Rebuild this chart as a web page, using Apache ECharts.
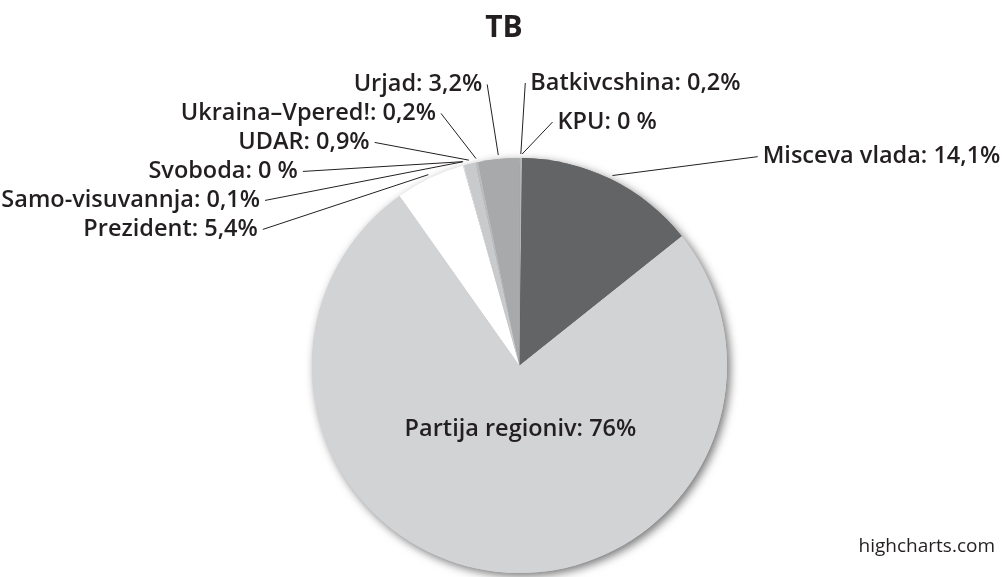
<!DOCTYPE html>
<html>
<head>
<meta charset="utf-8">
<script src="https://cdn.jsdelivr.net/npm/echarts@6/dist/echarts.min.js"></script>
<style>
    html, body { margin: 0; padding: 0; background: #fff; }
    #chart { width: 1008px; height: 577px; }
</style>
</head>
<body>
<div id="chart"></div>
<script>
// partii i rezultaty, % (po hodynnykovii strilci vid 12 hodyny)
var names = ['Batkivcshina', 'KPU', 'Misceva vlada', 'Partija regioniv', 'Prezident',
    'Samo-visuvannja', 'Svoboda', 'UDAR', 'Ukraina\u2013Vpered!', 'Urjad'];
var values = [0.2, 0, 14.1, 76, 5.4, 0.1, 0, 0.9, 0.2, 3.2];
var labels = ['0,2%', '0 %', '14,1%', '76%', '5,4%', '0,1%', '0 %', '0,9%', '0,2%', '3,2%'];
var colors = ['#b5b6b8', '#8e8f91', '#636466', '#d2d3d5', '#ffffff',
    '#dcdddf', '#d0d1d3', '#c9cacc', '#bbbcbe', '#a7a9ab'];

var font = '"Open Sans", sans-serif';
var textColor = '#231f20';
var cx = 519.5, cy = 365.5, r = 207.5;

// dovzhyny liniy pidpysiv (de vidriznyayutsia vid typovykh)
var lineLen = {
    'KPU': {length: 36, length2: 30},
    'Misceva vlada': {length: 25, length2: 136},
    'Prezident': {length: 75, length2: 14},
    'Samo-visuvannja': {length: 75, length2: 30},
    'Svoboda': {length: 75, length2: 16},
    'UDAR': {length: 75, length2: -24},
    'Ukraina\u2013Vpered!': {length: 75, length2: -45}
};

var data = names.map(function (n, i) {
    var item = {
        name: n,
        value: values[i],
        itemStyle: {color: colors[i]}
    };
    if (n === 'Partija regioniv') {
        // velykyi sektor - pidpys vseredyni
        item.label = {position: 'inside', offset: [16, -42]};
        item.labelLine = {show: false};
    } else if (lineLen[n]) {
        item.labelLine = lineLen[n];
    }
    return item;
});

var myChart = echarts.init(document.getElementById('chart'));
myChart.setOption({
    animation: false,
    title: {
        text: 'TB',
        left: 'center',
        top: 8,
        textStyle: {fontFamily: font, fontSize: 30, fontWeight: 'bold', color: textColor}
    },
    graphic: [{
        type: 'text',
        right: 13,
        top: 537,
        style: {text: 'highcharts.com', font: '19px ' + font, fill: textColor}
    }],
    series: [{
        // tin' pid krugom
        type: 'pie',
        silent: true,
        z: 1,
        center: [cx, cy],
        radius: r,
        label: {show: false},
        labelLine: {show: false},
        itemStyle: {
            shadowBlur: 10,
            shadowOffsetX: 3,
            shadowOffsetY: 3,
            shadowColor: 'rgba(0,0,0,0.55)'
        },
        data: values.map(function (v, i) { return {value: v, itemStyle: {color: colors[i]}}; })
    }, {
        type: 'pie',
        z: 2,
        center: [cx, cy],
        radius: r,
        startAngle: 90,
        clockwise: true,
        stillShowZeroSum: true,
        minShowLabelAngle: 0,
        avoidLabelOverlap: true,
        itemStyle: {borderWidth: 0},
        label: {
            show: true,
            fontFamily: font,
            fontSize: 23.5,
            fontWeight: 600,
            lineHeight: 27,
            overflow: 'none',
            color: textColor,
            formatter: function (p) { return p.name + ': ' + labels[p.dataIndex]; }
        },
        labelLine: {
            show: true,
            length: 75,
            length2: 4,
            lineStyle: {color: textColor, width: 1}
        },
        // priami liniyi vid kraiu kruga do pidpysu
        labelLayout: function (params) {
            var pts = params.labelLinePoints;
            if (!pts || pts.length < 2) return {};
            var p0 = pts[0], p2 = pts[pts.length - 1];
            var dx = p0[0] - cx, dy = p0[1] - cy;
            var d = Math.sqrt(dx * dx + dy * dy) || 1;
            return {labelLinePoints: [[p0[0] + dx / d * 4, p0[1] + dy / d * 4], p2]};
        },
        emphasis: {disabled: true},
        data: data
    }]
});
</script>
</body>
</html>
